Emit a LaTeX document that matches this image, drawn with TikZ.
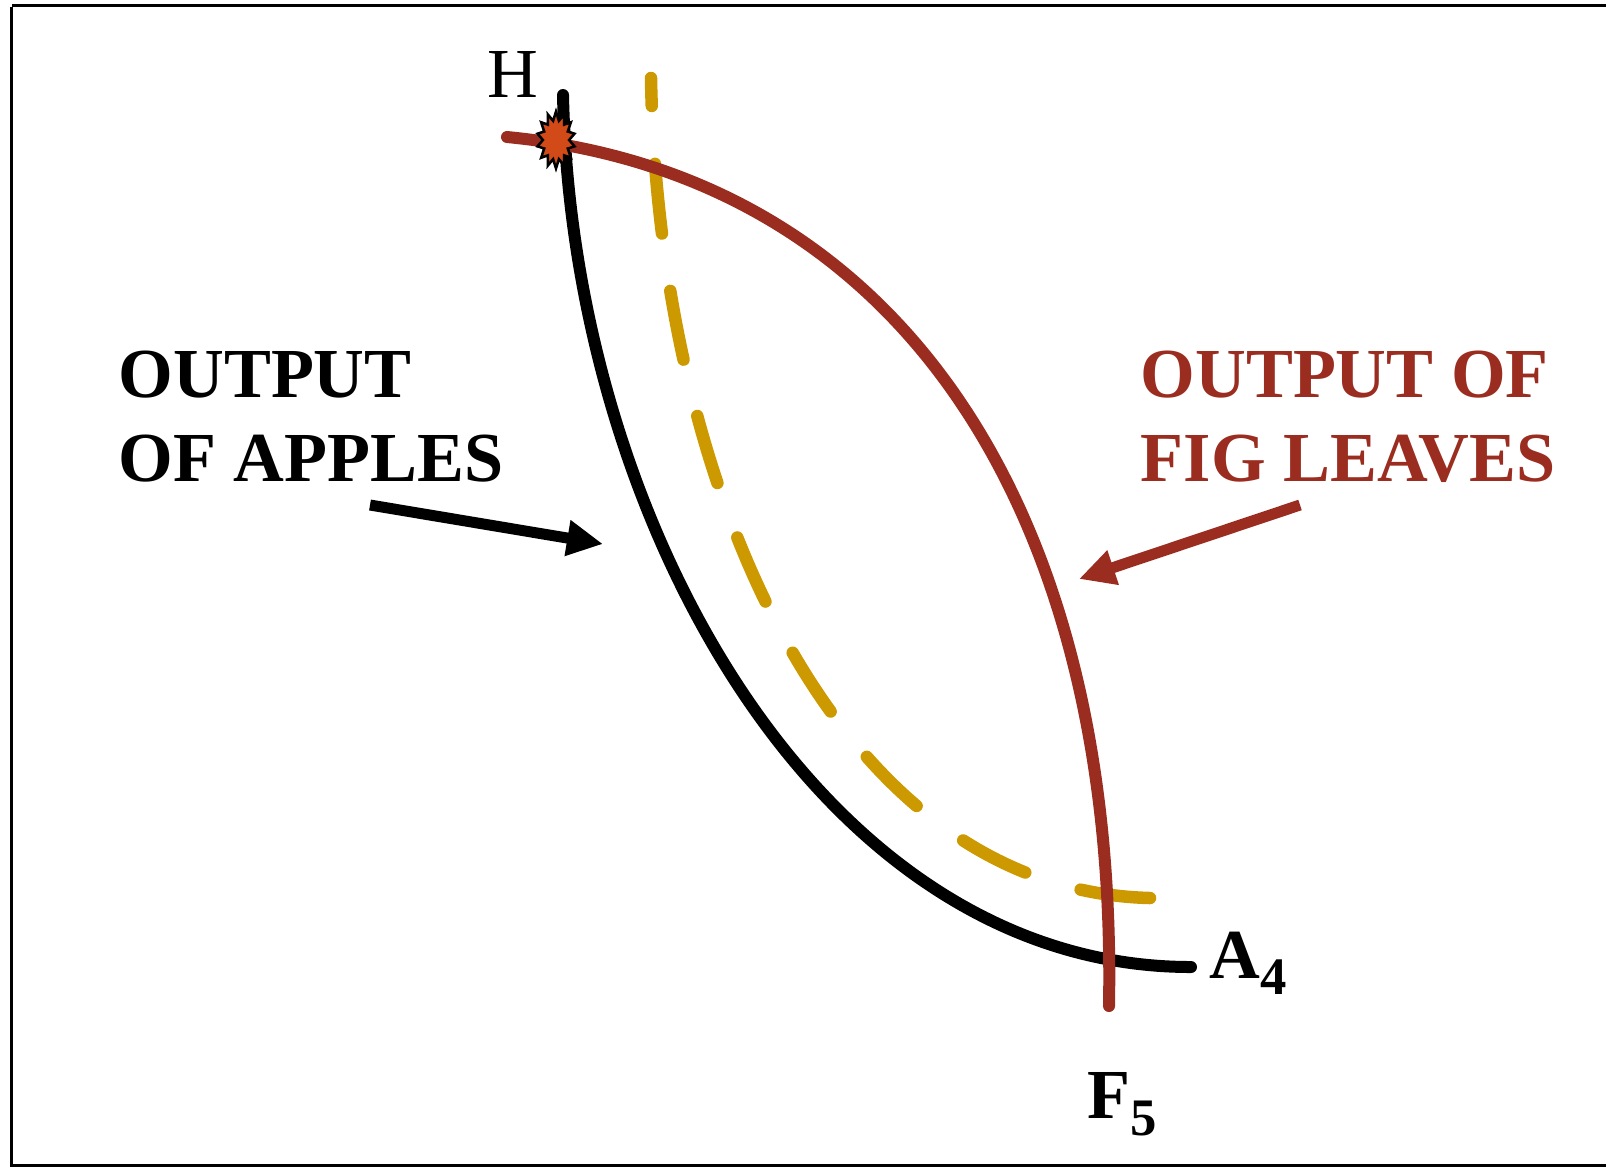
\documentclass[tikz,border=0pt]{standalone}
\usepackage{fontspec}
\setmainfont{Liberation Serif}
\usepackage{tikz}
\usetikzlibrary{arrows.meta,shapes.geometric}
\usepackage{xcolor}
\definecolor{figred}{HTML}{9A2D20}
\definecolor{applegold}{HTML}{CC9A00}
\definecolor{burstorange}{HTML}{D14A18}

\begin{document}
\begin{tikzpicture}[x=0.1mm, y=-0.1mm,
    frame/.style={line width=0.3mm},
    curve/.style={line width=1.2mm, line cap=round},
    pointer/.style={line width=1.1mm, -{Triangle[length=3.6mm,width=3.4mm]}},
    bigtext/.style={font=\fontsize{20}{23.8}\selectfont\bfseries, align=left, inner sep=0, anchor=base west},
    pointlabel/.style={font=\fontsize{20}{24}\selectfont, inner sep=0, anchor=base west}
]
\useasboundingbox (0,0) rectangle (1606,1167);

% Frame
\draw[frame] (1606,5) -- (12,5);
\draw[frame] (11,7) -- (11,1165.5) -- (1606,1165.5);

% End points
\coordinate (applestart) at (563,95);
\coordinate (appleend) at (1191,967);
\coordinate (figstart) at (507,137);
\coordinate (figend) at (1109,1006);
\coordinate (goldstart) at (651,78);
\coordinate (goldend) at (1150,898);

% Curves
\draw[curve, applegold, line width=1.25mm, dash pattern=on 7mm off 5.8mm]
    (goldend) .. controls (830,890) and (658,480) .. (goldstart);
\draw[curve] (applestart) .. controls (572,520) and (820,967) .. (appleend);
\draw[curve, figred] (figstart) .. controls (900,175) and (1118,510) .. (figend);

% Burst
\begin{scope}[shift={(556,140)}, yscale=1.5]
\node[star, star points=14, star point ratio=1.45, minimum size=3.8mm, inner sep=0,
    draw, line width=0.25mm, fill=burstorange, transform shape] (burst) at (0,0) {};
\end{scope}

% Labels
\node[pointlabel] (hlabel) at (487,97) {H};
\node[pointlabel, font=\fontsize{20}{24}\selectfont\bfseries] (alabel) at (1209,978)
    {A\raisebox{-4.8pt}{\fontsize{15}{15}\selectfont 4}};
\node[pointlabel, font=\fontsize{20}{24}\selectfont\bfseries] (flabel) at (1087,1118)
    {F\raisebox{-5.1pt}{\fontsize{15}{15}\selectfont 5}};

\node[bigtext] (appletext) at (118,481) {OUTPUT\\OF APPLES};
\node[bigtext, figred] (figtext) at (1140,481) {OUTPUT OF\\FIG LEAVES};

% Pointers
\coordinate (appletail) at (370,505);
\coordinate (appletip) at (603,544);
\coordinate (figtail) at (1300,505);
\coordinate (figtip) at (1079,579);
\draw[pointer] (appletail) -- (appletip);
\draw[pointer, figred] (figtail) -- (figtip);
\end{tikzpicture}
\end{document}
